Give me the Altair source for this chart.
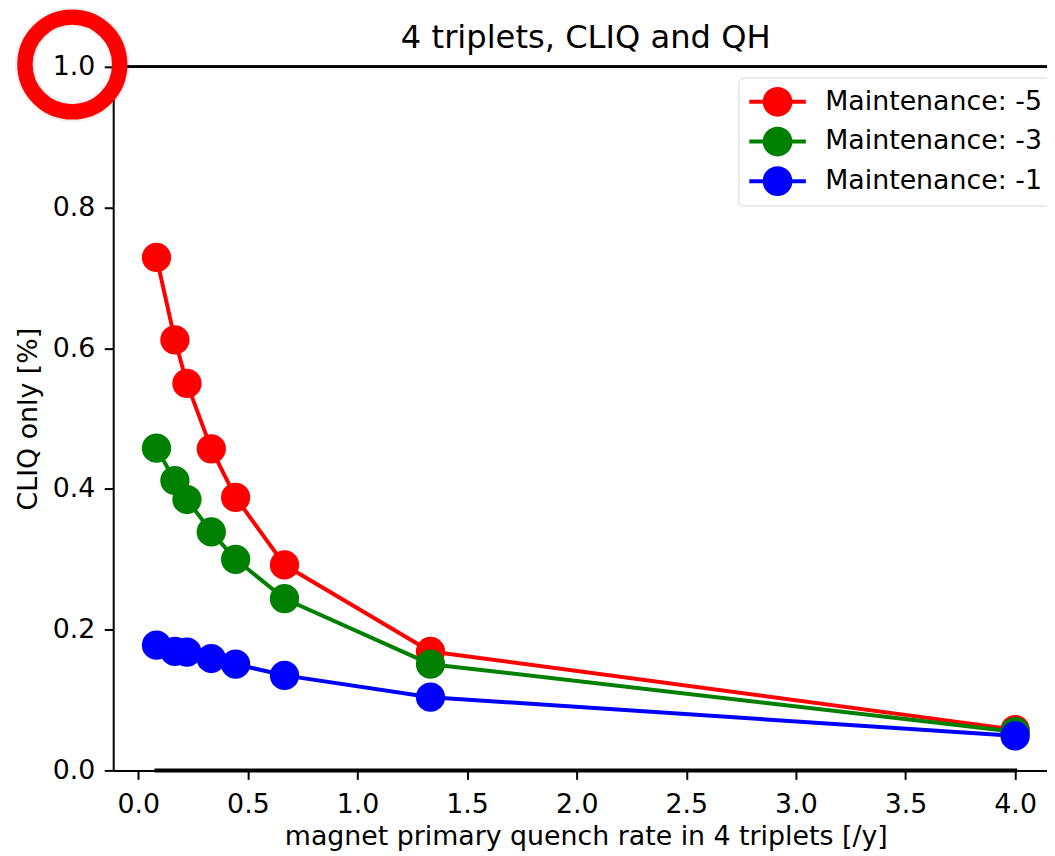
import altair as alt
import pandas as pd

# ---- data ----
x_rate = [0.083, 0.167, 0.222, 0.333, 0.444, 0.667, 1.333, 4.0]
maint_m5 = [0.729, 0.612, 0.550, 0.457, 0.388, 0.292, 0.169, 0.058]
maint_m3 = [0.458, 0.412, 0.385, 0.339, 0.300, 0.244, 0.151, 0.055]
maint_m1 = [0.178, 0.169, 0.168, 0.159, 0.151, 0.135, 0.104, 0.049]
zero_line = [0.0, 0.0, 0.0, 0.0, 0.0, 0.0, 0.0, 0.0]
series_names = ["Maintenance: -5", "Maintenance: -3", "Maintenance: -1"]
series_colors = ["#ff0000", "#008000", "#0000ff"]
x_ticks = [0.0, 0.5, 1.0, 1.5, 2.0, 2.5, 3.0, 3.5, 4.0]
y_ticks = [0.0, 0.2, 0.4, 0.6, 0.8, 1.0]
chart_title = "4 triplets, CLIQ and QH"

FONT = "DejaVu Sans"
FS = 27

rows = []
for name, vals in zip(series_names, [maint_m5, maint_m3, maint_m1]):
    for xv, yv in zip(x_rate, vals):
        rows.append({"rate": xv, "value": yv, "series": name})
df = pd.DataFrame(rows)
zdf = pd.DataFrame({"rate": x_rate, "value": zero_line})

x_scale = alt.Scale(domain=[-0.1145, 4.1454], nice=False, zero=False)
y_scale = alt.Scale(domain=[0.0, 1.0], nice=False, zero=False)

x_axis = alt.Axis(
    values=x_ticks, format=".1f", grid=False,
    title="magnet primary quench rate in 4 triplets [/y]",
    titleX=476.2, titleY=75, titleAlign="center", titleBaseline="alphabetic",
    titleFont=FONT, titleFontSize=FS, titleFontWeight="normal", titleColor="black",
    labelFont=FONT, labelFontSize=FS, labelColor="black", labelPadding=12.5,
    labelFlush=False, labelOverlap=False,
    tickSize=9, tickWidth=2, tickColor="black",
    domainColor="black", domainWidth=2,
)
y_axis = alt.Axis(
    values=y_ticks, format=".1f", grid=False,
    title="CLIQ only [%]",
    titleX=-77.3, titleY=354.5, titleAngle=270, titleAlign="center",
    titleBaseline="alphabetic",
    titleFont=FONT, titleFontSize=FS, titleFontWeight="normal", titleColor="black",
    labelFont=FONT, labelFontSize=FS, labelColor="black", labelPadding=9.5,
    labelFlush=False, labelOverlap=False,
    tickSize=9, tickWidth=2, tickColor="black",
    domainColor="black", domainWidth=2,
)

# line-through-circle legend glyph (unit radius = circle radius)
LEGEND_PATH = "M-1.9,-0.133H1.9V0.133H-1.9ZM1,0A1,1,0,1,1,-1,0A1,1,0,1,1,1,0Z"

legend = alt.Legend(
    title=None, orient="none", legendX=630, legendY=10.8, direction="vertical",
    symbolType=LEGEND_PATH, symbolSize=900, symbolStrokeWidth=0, symbolOpacity=1,
    symbolOffset=15, labelOffset=33, labelFont=FONT, labelFontSize=FS,
    labelColor="black", labelLimit=500, rowPadding=10, padding=9.5,
    strokeColor="#d6d6d6", fillColor="white", cornerRadius=5,
)
fill_scale = alt.Scale(domain=series_names, range=series_colors)

base = alt.Chart(df)
layers = []

# top spine
layers.append(
    alt.Chart(zdf).mark_rule(color="black", strokeWidth=2).encode(y=alt.datum(1.0))
)
# zero line
layers.append(
    alt.Chart(zdf).mark_line(color="black", strokeWidth=4, strokeCap="square").encode(
        x=alt.X("rate:Q", scale=x_scale, axis=x_axis),
        y=alt.Y("value:Q", scale=y_scale, axis=y_axis),
    )
)
for name, col in zip(series_names, series_colors):
    sub = base.transform_filter(alt.datum.series == name)
    layers.append(
        sub.mark_line(color=col, strokeWidth=4, strokeCap="square", strokeJoin="round").encode(
            x=alt.X("rate:Q", scale=x_scale, axis=x_axis),
            y=alt.Y("value:Q", scale=y_scale, axis=y_axis),
        )
    )
    layers.append(
        sub.mark_point(filled=True, size=870, opacity=1, shape="circle", strokeWidth=0).encode(
            x=alt.X("rate:Q", scale=x_scale, axis=x_axis),
            y=alt.Y("value:Q", scale=y_scale, axis=y_axis),
            fill=alt.Fill("series:N", scale=fill_scale, legend=legend),
        )
    )

# red ring annotation around the "1.0" tick label (with a faint halo)
ring = alt.Chart(zdf.head(1))
layers.append(
    ring.mark_point(
        shape="circle", size=9120, strokeWidth=20, color="#000000",
        filled=False, opacity=0.06, yOffset=-2.3,
    ).encode(x=alt.value(-41.2), y=alt.datum(1.0))
)
layers.append(
    ring.mark_point(
        shape="circle", size=9120, strokeWidth=15.5, color="#ff0000",
        filled=False, opacity=1, yOffset=-2.3,
    ).encode(x=alt.value(-41.2), y=alt.datum(1.0))
)

# chart title, centred over the axes
layers.append(
    alt.Chart(zdf.head(1)).mark_text(
        text=chart_title, font=FONT, fontSize=32.4, color="black",
        align="center", baseline="alphabetic",
    ).encode(x=alt.value(476.2), y=alt.value(-19))
)

chart = alt.layer(*layers).properties(
    width=941, height=709,
    padding={"left": 106, "top": 56, "right": 0, "bottom": 83},
    autosize=alt.AutoSizeParams(type="none"),
).configure_view(stroke=None).configure_legend(strokeWidth=2).configure(background="white")

chart.save("out.html", embed_options={"renderer": "svg", "actions": False})
